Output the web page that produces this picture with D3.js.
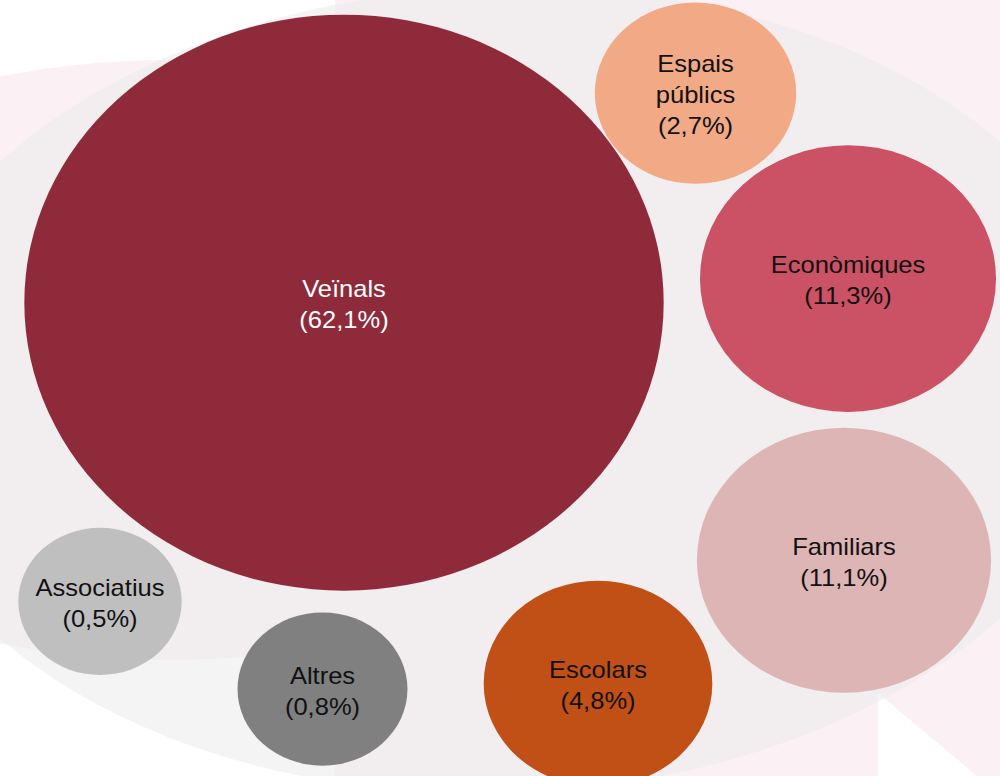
<!DOCTYPE html>
<html>
<head>
<meta charset="utf-8">
<script src="https://cdn.jsdelivr.net/npm/d3@7"></script>
<style>
  body { margin: 0; background: #ffffff; }
  svg { display: block; }
</style>
</head>
<body>
<svg id="bubbles" width="1000" height="776"></svg>
<script>
// data
var categories = ["Veïnals", "Econòmiques", "Familiars", "Escolars", "Espais públics", "Altres", "Associatius"];
var values = [62.1, 11.3, 11.1, 4.8, 2.7, 0.8, 0.5];
var colors = ["#8e2a39", "#cb5264", "#ddb5b5", "#c05015", "#f2a985", "#808080", "#bfbfbf"];
var textColors = ["#ffffff", "#111111", "#111111", "#111111", "#111111", "#111111", "#111111"];

// where each bubble sits, as a share of the drawing area
var layoutX = [0.344, 0.848, 0.844, 0.598, 0.6955, 0.3225, 0.100];
var layoutY = [0.390, 0.359, 0.722, 0.881, 0.120, 0.888, 0.775];

var width = 1000;
var height = 776;
var stretch = 1.11; // the bubbles are drawn a bit wider than tall

var locale = d3.formatLocale({ decimal: ",", thousands: ".", grouping: [3], currency: ["", "€"] });
var pct = locale.format(".1f");

var x = d3.scaleLinear().domain([0, 1]).range([0, width]);
var y = d3.scaleLinear().domain([0, 1]).range([0, height]);
var r = d3.scalePow().exponent(0.7)
    .domain([0, d3.max(values)])
    .range([66, 288]);

const svg = d3.select("#bubbles");

// decorative background
var bg = svg.append("g");
bg.append("path")
    .attr("fill", "#fbf1f4")
    .attr("d", "M335,0H1000V776H977L878,693V776H335Z");
bg.append("ellipse")
    .attr("cx", 170).attr("cy", 360)
    .attr("rx", 520).attr("ry", 300)
    .attr("fill", "#fbf1f4");
bg.append("ellipse")
    .attr("cx", 500).attr("cy", 390)
    .attr("rx", 620).attr("ry", 403)
    .attr("transform", "rotate(-2 500 390)")
    .attr("fill", "#e9e9e9")
    .attr("fill-opacity", 0.5);

var data = categories.map(function (c, i) {
    return { name: c, value: values[i], color: colors[i], text: textColors[i], px: layoutX[i], py: layoutY[i] };
});

var node = svg.append("g")
    .selectAll("g")
    .data(data)
    .join("g")
    .attr("transform", function (d) { return "translate(" + x(d.px) + "," + y(d.py) + ")"; });

node.append("ellipse")
    .attr("rx", function (d) { return r(d.value) * stretch; })
    .attr("ry", function (d) { return r(d.value); })
    .attr("fill", function (d) { return d.color; });

var lineH = 31;
node.append("text")
    .attr("transform", "scale(" + stretch + ",1)")
    .attr("text-anchor", "middle")
    .attr("font-family", "'Liberation Sans', Arial, sans-serif")
    .attr("font-size", "23px")
    .attr("fill", function (d) { return d.text; })
    .each(function (d) {
        var lines = d.name.split(" ");
        lines.push("(" + pct(d.value) + "%)");
        var t = d3.select(this);
        lines.forEach(function (l, i) {
            t.append("tspan")
                .attr("x", 0)
                .attr("y", (i - (lines.length - 1) / 2) * lineH + 10)
                .text(l);
        });
    });
</script>
</body>
</html>
